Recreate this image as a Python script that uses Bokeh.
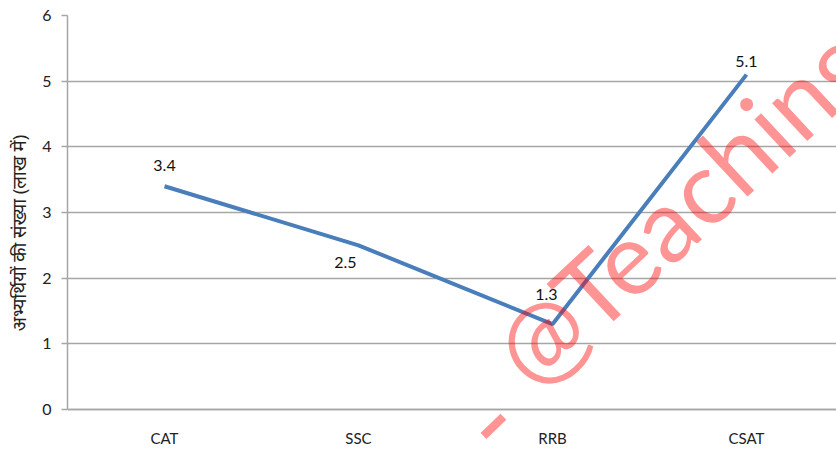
from bokeh.plotting import figure
from bokeh.models import ColumnDataSource, Range1d, FixedTicker, Label, LabelSet
from bokeh.core.properties import value
from bokeh.embed import file_html
from bokeh.resources import INLINE

categories = ["CAT", "SSC", "RRB", "CSAT"]
values = [3.4, 2.5, 1.3, 5.1]
value_labels = ["3.4", "2.5", "1.3", "5.1"]
y_ticks = [0, 1, 2, 3, 4, 5, 6]
y_title = "अभ्यर्थियों की संख्या (लाख में)"
watermark = "@Teaching"

FONT = "Lato"
GRID = "#a6a6a6"

xs = [i + 0.5 for i in range(len(categories))]
# label placement (style only)
lx_off = [0, -13, -6, 0]
ly_off = [21, -17, 30, 13]

src = ColumnDataSource(dict(x=xs, y=values, t=value_labels, xo=lx_off, yo=ly_off))

p = figure(width=836, height=450, output_backend="svg", toolbar_location=None,
           x_range=Range1d(0, 3.964), y_range=Range1d(-0.624, 6),
           min_border_left=67, min_border_right=0, min_border_top=15, min_border_bottom=0)
p.outline_line_color = None
p.background_fill_color = "white"
p.border_fill_color = "white"

p.xgrid.visible = False
p.ygrid.ticker = FixedTicker(ticks=y_ticks)
p.ygrid.grid_line_color = GRID
p.ygrid.grid_line_width = 1.5

p.yaxis.ticker = FixedTicker(ticks=y_ticks)
p.yaxis.bounds = (0, 6)
p.yaxis.axis_line_color = GRID
p.yaxis.axis_line_width = 1.5
p.yaxis.major_tick_line_color = GRID
p.yaxis.major_tick_line_width = 1.5
p.yaxis.major_tick_out = 6
p.yaxis.major_tick_in = 0
p.yaxis.minor_tick_line_color = None
p.yaxis.major_label_text_font = FONT
p.yaxis.major_label_text_font_size = "16px"
p.yaxis.major_label_text_color = "#222222"
p.yaxis.major_label_standoff = 10
p.yaxis.axis_label = y_title
p.yaxis.axis_label_text_font = "Noto Sans"
p.yaxis.axis_label_text_font_size = "18.5px"
p.yaxis.axis_label_text_font_style = "normal"
p.yaxis.axis_label_text_color = "#222222"
p.yaxis.axis_label_standoff = 8

p.xaxis.fixed_location = 0
p.xaxis.ticker = FixedTicker(ticks=xs)
p.xaxis.major_label_overrides = {x: c for x, c in zip(xs, categories)}
p.xaxis.axis_line_color = GRID
p.xaxis.axis_line_width = 1.5
p.xaxis.major_tick_line_color = None
p.xaxis.minor_tick_line_color = None
p.xaxis.major_label_text_font = FONT
p.xaxis.major_label_text_font_size = "15px"
p.xaxis.major_label_text_color = "#222222"
p.xaxis.major_label_standoff = 13

p.line("x", "y", source=src, line_color="#4a7ebb", line_width=4)

labels = LabelSet(x="x", y="y", text="t", source=src, x_offset="xo", y_offset="yo",
                  text_align="center", text_baseline="middle",
                  text_font=value(FONT), text_font_size=value("16px"), text_color="#111111")
p.add_layout(labels)

wm = Label(x=2.273, y=0.67, text=watermark, angle=43, angle_units="deg",
           text_align="left", text_baseline="middle", text_font=FONT,
           text_font_size="102px", text_color="#ff0000", text_alpha=0.42)
p.add_layout(wm)
dash = Label(x=2.170, y=-0.18, text="-", angle=44, angle_units="deg",
             text_align="center", text_baseline="middle", text_font=FONT,
             text_font_size="112px", text_color="#ff0000", text_alpha=0.42)
p.add_layout(dash)

open("out.html", "w").write(file_html(p, INLINE))
